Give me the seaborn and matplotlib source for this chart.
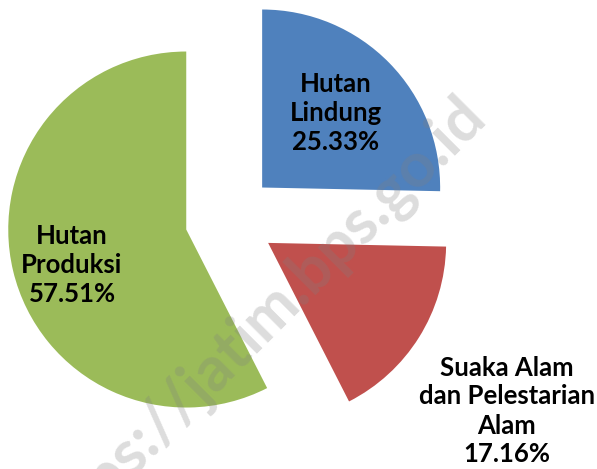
import numpy as np
import seaborn as sns
import matplotlib.pyplot as plt

# data
categories = ['Hutan\nLindung', 'Suaka Alam\ndan Pelestarian\nAlam', 'Hutan\nProduksi']
shares = [25.33, 17.16, 57.51]
colors = ['#4F81BD', '#C0504D', '#9BBB59']

sns.set_style('white')
plt.rcParams['font.family'] = ['Lato', 'DejaVu Sans']

fig = plt.figure(figsize = (5.97, 4.69), dpi = 100)
ax = fig.add_axes([0, 0, 1, 1])

# axes in pixel units so the pie sits where it does in the picture
# (explode is in data units here, same as the radius)
wedges, _ = ax.pie(shares, colors = colors, startangle = 90, counterclock = False,
  explode = [45] * len(shares), radius = 178, center = (230, 250),
  wedgeprops = {'linewidth': 0})
ax.set_xlim(0, 597)
ax.set_ylim(0, 469)
ax.set_aspect('equal')
ax.axis('off')

# labels: inside for the two big slices, outside for the small one
label_pos = [(336, 356), (507, 58), (72, 204)]
for name, val, (x, y) in zip(categories, shares, label_pos):
  ax.text(x, y, f'{name}\n{val:.2f}%', ha = 'center', va = 'center', fontsize = 18.5,
    fontweight = 'bold', linespacing = 1.25, color = 'black', zorder = 5)

# watermark
ax.text(256, 143, 'https://jatim.bps.go.id', rotation = 45, ha = 'center', va = 'center',
  fontsize = 45, fontweight = 'bold', color = '#808080', alpha = 0.27, zorder = 6,
  rotation_mode = 'anchor')

fig.savefig('out.png', dpi = 100)
